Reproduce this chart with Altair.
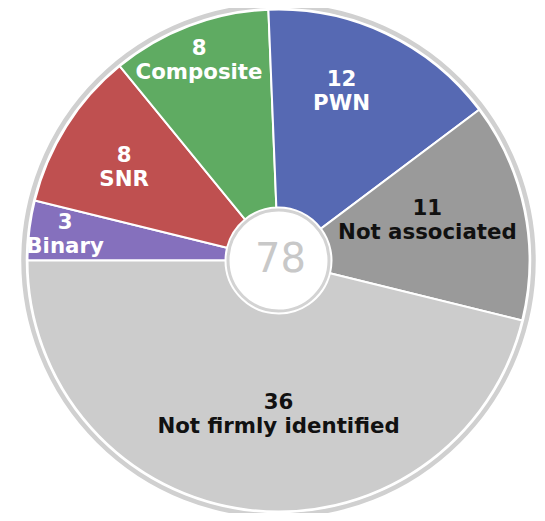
import math
import altair as alt
import pandas as pd

# ---- data ----
categories = ["Binary", "SNR", "Composite", "PWN", "Not associated", "Not firmly identified"]
counts = [3, 8, 8, 12, 11, 36]

# ---- styles / label layout (kept separate from the data) ----
slice_colors = ["#8570bd", "#bf5050", "#5fab62", "#5669b3", "#9a9a9a", "#cccccc"]
text_colors = ["#ffffff", "#ffffff", "#ffffff", "#ffffff", "#111111", "#111111"]
label_radius = [215, 180, 215, 180, 154, 154]
label_shift = [0.0, -0.3, -0.2, -1.06, -0.72, -1.5]

df = pd.DataFrame({
    "idx": list(range(len(categories))),
    "category": categories,
    "count": counts,
    "tcolor": text_colors,
    "lr": label_radius,
    "shift": label_shift,
})

total = sum(counts)
W, H = 529, 505
CX, CY = 270.5, 252.5
start = 1.5 * math.pi
theta_scale = alt.Scale(domain=[0, total], range=[start, start + 2 * math.pi], nice=False, zero=True)

base = alt.Chart(df)
pos = dict(x=alt.value(CX), y=alt.value(CY))

ring = base.transform_aggregate(total="sum(count)").mark_point(
    shape="circle", size=510 ** 2, filled=False, color="#d0d0d0", strokeWidth=4.5, opacity=1
).encode(**pos)

arcs = base.mark_arc(radius=251, innerRadius=53, stroke="white", strokeWidth=2).encode(
    theta=alt.Theta("count:Q", stack=True, scale=theta_scale),
    color=alt.Color("category:N", scale=alt.Scale(domain=categories, range=slice_colors), legend=None),
    order=alt.Order("idx:Q"),
    **pos,
)

hub = base.transform_aggregate(total="sum(count)").mark_point(
    shape="circle", size=101 ** 2, filled=True, color="white", fill="white",
    stroke="#d3d3d3", strokeWidth=3, opacity=1
).encode(**pos)

total_text = base.transform_aggregate(total="sum(count)").mark_text(
    font="DejaVu Sans", fontSize=40, color="#c8c8c8", align="center", baseline="middle"
).encode(text=alt.Text("total:Q"), x=alt.value(CX + 2), y=alt.value(CY - 1))

labels = base.transform_window(
    cum="sum(count)", sort=[alt.SortField("idx")]
).transform_calculate(
    mid="datum.cum - datum.count / 2 + datum.shift",
    lines="[toString(datum.count), datum.category]",
).mark_text(
    font="DejaVu Sans", fontWeight="bold", fontSize=21.3, lineHeight=24,
    align="center", baseline="middle", dy=-12
).encode(
    theta=alt.Theta("mid:Q", scale=theta_scale, stack=False),
    radius=alt.Radius("lr:Q", scale=None),
    text=alt.Text("lines:N"),
    fill=alt.Fill("tcolor:N", scale=None),
    **pos,
)

chart = alt.layer(ring, arcs, hub, total_text, labels).properties(
    width=W, height=H, padding=0, autosize="none"
).configure_view(strokeWidth=0)

chart.save("out.html", embed_options={"renderer": "svg", "actions": False})
